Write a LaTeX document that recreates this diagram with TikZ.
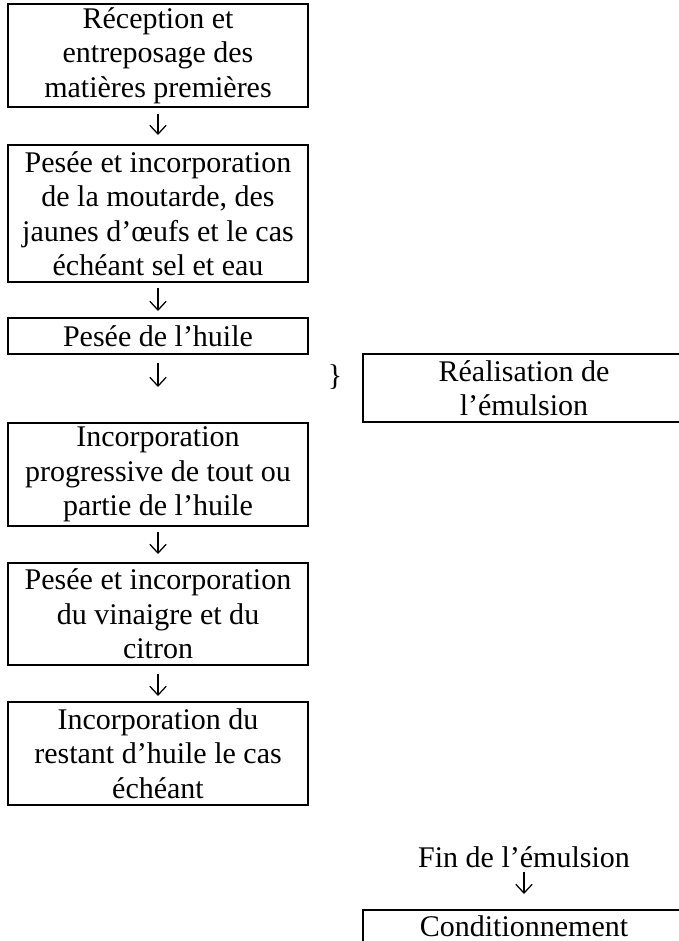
\documentclass[tikz,border=0pt]{standalone}
\usepackage{fontspec}
\setmainfont{Liberation Serif}
\usetikzlibrary{arrows.meta}

\tikzset{stage_box/.style={draw=black, line width=0.8pt, rectangle, inner sep=0pt, minimum width=120pt, align=center, font=\fontsize{12pt}{13.8pt}\selectfont}}
\tikzset{side_box/.style={stage_box, minimum width=128.8pt}}
\tikzset{plain_text/.style={inner sep=0pt, align=center, font=\fontsize{12pt}{13.8pt}\selectfont}}
\tikzset{flow_arrow/.style={-{Straight Barb[length=3.5pt,width=6.5pt]}, line width=0.5pt}}

\begin{document}
\begin{tikzpicture}[x=0.4pt,y=-0.4pt]
    \useasboundingbox (0,0) rectangle (679,941);
    \clip (0,0) rectangle (679,941);
    % main column
    \node[stage_box, minimum height=41.2pt] (reception) at (158,55.5) {Réception et\\entreposage des\\matières premières};
    \node[stage_box, minimum height=54.8pt] (moutarde) at (158,213.5) {Pesée et incorporation\\de la moutarde, des\\jaunes d’œufs et le cas\\échéant sel et eau};
    \node[stage_box, minimum height=14.4pt] (huile) at (158,336) {Pesée de l’huile};
    \node[stage_box, minimum height=41.2pt] (progressive) at (158,474.5) {Incorporation\\progressive de tout ou\\partie de l’huile};
    \node[stage_box, minimum height=40.8pt] (vinaigre) at (158,614) {Pesée et incorporation\\du vinaigre et du\\citron};
    \node[stage_box, minimum height=41.2pt] (restant) at (158,753.5) {Incorporation du\\restant d’huile le cas\\échéant};
    % right column
    \node[plain_text] (brace) at (335,377) {\}};
    \node[side_box, minimum height=27.2pt] (emulsion) at (524,388) {Réalisation de\\l’émulsion};
    \node[plain_text] (fin) at (524,857) {Fin de l’émulsion};
    \node[side_box, minimum height=12.8pt] (conditionnement) at (524,926) {Conditionnement};
    % arrows
    \draw[flow_arrow, shorten <=2.4pt, shorten >=3.6pt] (reception) -- (moutarde);
    \draw[flow_arrow, shorten <=2pt, shorten >=2.4pt] (moutarde) -- (huile);
    \draw[flow_arrow, shorten <=3.2pt, shorten >=14pt] (huile) -- (progressive);
    \draw[flow_arrow, shorten <=2pt, shorten >=3.2pt] (progressive) -- (vinaigre);
    \draw[flow_arrow, shorten <=3.2pt, shorten >=2pt] (vinaigre) -- (restant);
    \draw[flow_arrow, shorten <=1.6pt, shorten >=6pt] (fin) -- (conditionnement);
\end{tikzpicture}
\end{document}
